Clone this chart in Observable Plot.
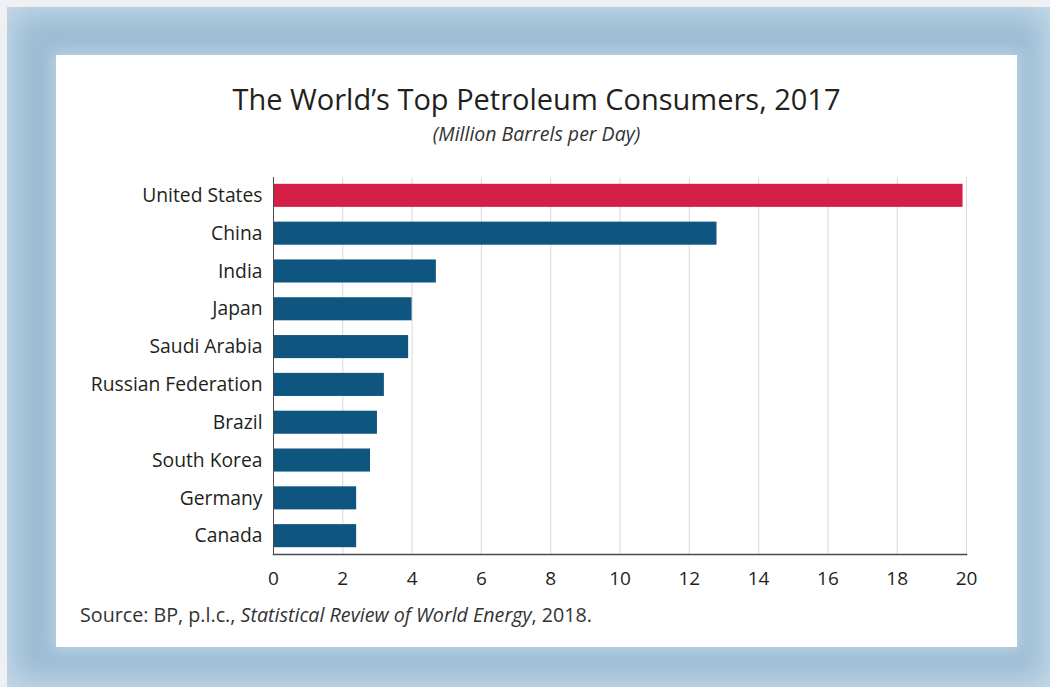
<!DOCTYPE html>
<html>
<head>
<meta charset="utf-8">
<script src="https://cdn.jsdelivr.net/npm/d3@7"></script>
<script src="https://cdn.jsdelivr.net/npm/@observablehq/plot@0.6"></script>
<style>
  html, body { margin: 0; padding: 0; width: 1050px; height: 687px; overflow: hidden; background: #eef0f3; font-family: "Open Sans", "Noto Sans", sans-serif; }
  #frame { position: absolute; left: 7px; top: 7px; width: 1043px; height: 680px; background: #9dbdd5;
    box-shadow: inset 0 0 28px 6px rgba(205,222,235,0.85); }
  #panel { position: absolute; left: 56px; top: 55px; width: 961px; height: 592px; background: #fff;
    box-shadow: 0 0 14px 4px rgba(190,212,228,0.9); }
  #title { position: absolute; left: 0; width: 961px; top: 24px; text-align: center; font-size: 29px; color: #231f20; line-height: 40px; }
  #subtitle { position: absolute; left: 0; width: 961px; top: 66px; text-align: center; font-size: 19.5px; font-style: italic; color: #333; line-height: 26px; }
  #chart { position: absolute; left: 0; top: 115px; }
  #source { position: absolute; left: 24px; top: 547px; font-size: 19.7px; color: #333; line-height: 26px; }
</style>
</head>
<body>
<div id="frame"></div>
<div id="panel">
  <div id="title">The World’s Top Petroleum Consumers, 2017</div>
  <div id="subtitle">(Million Barrels per Day)</div>
  <div id="chart"></div>
  <div id="source">Source: BP, p.l.c., <i>Statistical Review of World Energy</i>, 2018.</div>
</div>
<script>
const countries = ["United States", "China", "India", "Japan", "Saudi Arabia", "Russian Federation", "Brazil", "South Korea", "Germany", "Canada"];
const consumption = [19.9, 12.8, 4.7, 4.0, 3.9, 3.2, 3.0, 2.8, 2.4, 2.4];
const xTicks = [0, 2, 4, 6, 8, 10, 12, 14, 16, 18, 20];
const highlight = "United States";

const data = countries.map((c, i) => ({country: c, value: consumption[i]}));

const chart = Plot.plot({
  width: 961,
  height: 420,
  marginLeft: 217,
  marginRight: 51,
  marginTop: 7,
  marginBottom: 36,
  style: {fontFamily: "'Open Sans', 'Noto Sans', sans-serif", fontSize: "19px", color: "#231f20", background: "transparent"},
  x: {domain: [0, 20], ticks: xTicks, label: null},
  y: {domain: countries, paddingInner: 0.39, paddingOuter: 0.18, round: false, label: null},
  marks: [
    Plot.gridX(xTicks, {stroke: "#d9d9d9", strokeOpacity: 1, strokeWidth: 1}),
    Plot.barX(data, {x: "value", y: "country", fill: d => d.country === highlight ? "#d41f47" : "#0e5580"}),
    Plot.axisX(xTicks, {tickSize: 0, tickPadding: 17, fontSize: 19, fill: "#231f20", label: null}),
    Plot.axisY({tickSize: 0, tickPadding: 11, fontSize: 19.3, fill: "#231f20", label: null}),
    Plot.frame({anchor: "bottom", stroke: "#4a4a4a", strokeWidth: 1.5}),
    Plot.frame({anchor: "left", stroke: "#4a4a4a", strokeWidth: 1})
  ]
});
document.getElementById("chart").appendChild(chart);
</script>
</body>
</html>
